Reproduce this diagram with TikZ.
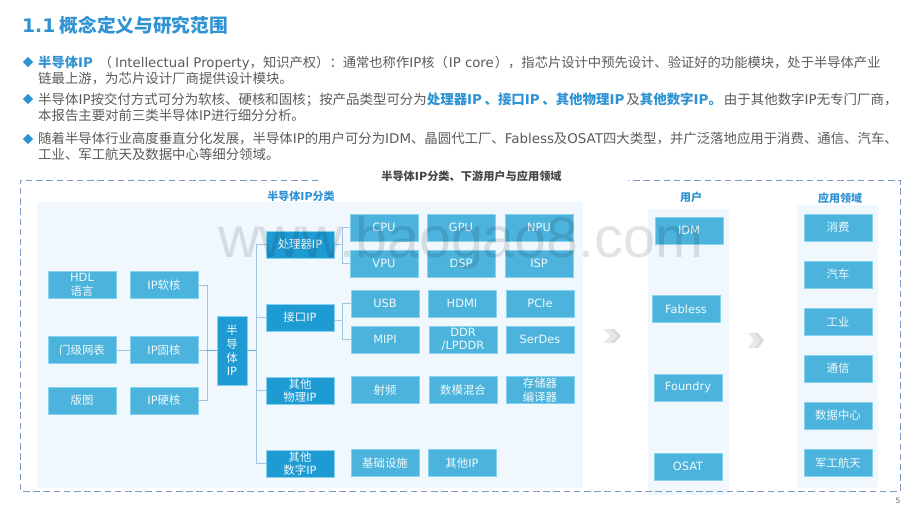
\documentclass[tikz,border=0pt]{standalone}
\usepackage{fontspec}
\setmainfont{Noto Sans CJK SC}
\newfontfamily\lat{DejaVu Sans}
\newfontfamily\wmfont{Liberation Sans}
\newcommand\La[1]{{\lat #1}}
\definecolor{hi}{HTML}{2F93D3}
\definecolor{bodytx}{HTML}{5A5A5A}
\definecolor{boxa}{HTML}{4BB3DC}
\definecolor{boxb}{HTML}{1E9BD3}
\definecolor{edgea}{HTML}{86D3EF}
\definecolor{panel}{HTML}{F0F8FD}
\definecolor{conna}{HTML}{9CC6E2}
\definecolor{dashc}{HTML}{7C9ABF}
\tikzset{
  lt/.style={anchor=base west,inner sep=0pt,text=bodytx,font=\fontsize{13.4}{14}\selectfont},
  basebox/.style={minimum width=68pt,minimum height=27pt,inner sep=0pt,align=center,text=white!92!boxa,draw=edgea,line width=.5pt,font=\fontsize{11.4}{13.6}\selectfont},
  bluebox/.style={basebox,fill=boxa},
  darkbox/.style={basebox,fill=boxb},
  head/.style={inner sep=0pt,text=hi,font=\fontsize{11}{13}\selectfont\bfseries},
  conn/.style={draw=conna,line width=.8pt},
  bullet/.style={diamond,fill=hi,inner sep=0pt,minimum width=10.5pt,minimum height=10.5pt},
  dashframe/.style={draw=dashc,line width=.9pt,dash pattern=on 6.5pt off 3.7pt},
  chev/.style={fill=black!14,draw=none}
}
\usetikzlibrary{shapes.geometric}
\begin{document}
\begin{tikzpicture}[x=1pt,y=-1pt]
\useasboundingbox (0,0) rectangle (920,518);
% panels
\fill[panel] (37,202) rectangle (583,488);
\fill[panel] (648,209) rectangle (729,495);
\fill[panel] (797,205) rectangle (878,488);
% title
\node[anchor=base west,inner sep=0pt,text=hi,font=\fontsize{18.7}{20}\selectfont\bfseries] (title) at (22,33) {\La{1.1} 概念定义与研究范围};
% bullets
\node[bullet] (b1) at (28,62) {};
\node[bullet] (b2) at (28,99) {};
\node[bullet] (b3) at (28,139) {};
% body
\node[lt,font=\fontsize{13.3}{14}\selectfont] (l1) at (38,68) {{\bfseries\color{hi}半导体\La{IP}}\hspace{6pt}（\hspace{3pt}\La{Intellectual Property}，知识产权）：通常也称作\La{IP}核（\hspace{1pt}\La{IP core}\hspace{1pt}），指芯片设计中预先设计、验证好的功能模块，处于半导体产业};
\node[lt] (l2) at (38,84) {链最上游，为芯片设计厂商提供设计模块。};
\node[lt,font=\fontsize{13.45}{14}\selectfont] (l3) at (38,105) {半导体\La{IP}按交付方式可分为软核、硬核和固核；按产品类型可分为{\bfseries\color{hi}处理器\La{IP}\hspace{2.5pt}、接口\La{IP}\hspace{2.5pt}、其他物理\La{IP}\hspace{2pt}}及{\bfseries\color{hi}其他数字\La{IP}。}\hspace{2pt}由于其他数字\La{IP}无专门厂商，};
\node[lt] (l4) at (38,121) {本报告主要对前三类半导体\La{IP}进行细分分析。};
\node[lt] (l5) at (38,144) {随着半导体行业高度垂直分化发展，半导体\La{IP}的用户可分为\La{IDM}、晶圆代工厂、\La{Fabless}及\La{OSAT}四大类型，并广泛落地应用于消费、通信、汽车、};
\node[lt] (l6) at (38,160) {工业、军工航天及数据中心等细分领域。};
% frame
\coordinate (fa) at (318,180);
\coordinate (fb) at (628,180);
\draw[dashframe] (fa) -- (20,180) -- (20,491) -- (900,491) -- (900,180) -- (fb);
\node[inner sep=0pt,text=black!72,font=\fontsize{11.2}{13}\selectfont\bfseries] (maint) at (471.5,176.5) {半导体\La{IP}分类、下游用户与应用领域};
\node[head] (h1) at (301,196) {半导体\La{IP}分类};
\node[head] (h2) at (691,197) {用户};
\node[head] (h3) at (840,198) {应用领域};
% left columns
\node[bluebox] (hdl) at (82,285) {\La{HDL}\\语言};
\node[bluebox] (gate) at (82,350) {门级网表};
\node[bluebox] (layout) at (82,400.5) {版图};
\node[bluebox] (soft) at (164,285) {\La{IP}软核};
\node[bluebox] (firm) at (164,350) {\La{IP}固核};
\node[bluebox] (hard) at (164,400.5) {\La{IP}硬核};
\node[darkbox,minimum width=30pt,minimum height=69pt] (core) at (232,350.5) {半\\导\\体\\\La{IP}};
\node[darkbox] (proc) at (300,244.5) {处理器\La{IP}};
\node[darkbox] (intf) at (300,317.5) {接口\La{IP}};
\node[darkbox] (phys) at (300,390.5) {其他\\物理\La{IP}};
\node[darkbox] (digi) at (300,463.5) {其他\\数字\La{IP}};
% sub boxes
\node[bluebox] (cpu) at (384,227.5) {\La{CPU}};
\node[bluebox] (gpu) at (461,227.5) {\La{GPU}};
\node[bluebox] (npu) at (539,227.5) {\La{NPU}};
\node[bluebox] (vpu) at (384,263.5) {\La{VPU}};
\node[bluebox] (dsp) at (461,263.5) {\La{DSP}};
\node[bluebox] (isp) at (539,263.5) {\La{ISP}};
\node[bluebox] (usb) at (385,303.5) {\La{USB}};
\node[bluebox] (hdmi) at (462,303.5) {\La{HDMI}};
\node[bluebox] (pcie) at (540,303.5) {\La{PCIe}};
\node[bluebox] (mipi) at (385,339.5) {\La{MIPI}};
\node[bluebox] (ddr) at (463,339.5) {\La{DDR}\\\La{/LPDDR}};
\node[bluebox] (serdes) at (540,339.5) {\La{SerDes}};
\node[bluebox] (rf) at (385,390) {射频};
\node[bluebox] (ams) at (463,390) {数模混合};
\node[bluebox] (mem) at (540,390) {存储器\\编译器};
\node[bluebox] (infra) at (385,463) {基础设施};
\node[bluebox] (oth) at (462,463) {其他\La{IP}};
% users
\node[bluebox] (idm) at (689,230.5) {\La{IDM}};
\node[bluebox] (fab) at (686,309) {\La{Fabless}};
\node[bluebox] (fdy) at (688,387.5) {\La{Foundry}};
\node[bluebox] (osat) at (688,466.5) {\La{OSAT}};
% domains
\node[bluebox] (d1) at (838,227.5) {消费};
\node[bluebox] (d2) at (838,274.5) {汽车};
\node[bluebox] (d3) at (838,321.5) {工业};
\node[bluebox] (d4) at (838,368.5) {通信};
\node[bluebox] (d5) at (838,415.5) {数据中心};
\node[bluebox] (d6) at (838,463) {军工航天};
% connectors
\coordinate (lj) at (207,350.5);
\coordinate (rj) at (256,350.5);
\coordinate (pj) at (342,244.5);
\coordinate (ij) at (342,320.5);
\draw[conn] (gate) -- (firm);
\draw[conn] (soft.east) -| (lj);
\draw[conn] (hard.east) -| (lj);
\draw[conn] (firm.east) -- (firm.east -| lj);
\draw[conn,draw=conna!50!boxb] (lj) -- (core.west);
\draw[conn,draw=conna!50!boxb] (core.east) -- (rj);
\draw[conn] (rj) |- (proc.west);
\draw[conn] (rj) |- (intf.west);
\draw[conn] (rj) |- (phys.west);
\draw[conn] (rj) |- (digi.west);
\draw[conn] (proc.east) -- (pj);
\draw[conn] (pj) |- (cpu.west);
\draw[conn] (pj) |- (vpu.west);
\draw[conn] (intf.east |- ij) -- (ij);
\draw[conn] (ij) |- (usb.west);
\draw[conn] (ij) |- (mipi.west);
% chevrons
\fill[chev] (608,329) -- (614,329) -- (621,336) -- (614,343) -- (608,343) -- (615,336) -- cycle;
\fill[black!9] (603,329) -- (610,329) -- (617,336) -- (610,343) -- (603,343) -- (610,336) -- cycle;
\fill[chev] (753,333) -- (758,333) -- (764,340.5) -- (758,348) -- (753,348) -- (759,340.5) -- cycle;
\fill[black!9] (748,333) -- (754,333) -- (760,340.5) -- (754,348) -- (748,348) -- (754,340.5) -- cycle;
% watermark
\node[anchor=base west,inner sep=0pt,text=black,opacity=.11,font=\wmfont\fontsize{57.4}{60}\selectfont] (wm) at (218,258) {www.baogao8.com};
% page number
\node[inner sep=0pt,text=black!60,font=\lat\fontsize{7.5}{9}\selectfont] (pg) at (898,501) {5};
\end{tikzpicture}
\end{document}
